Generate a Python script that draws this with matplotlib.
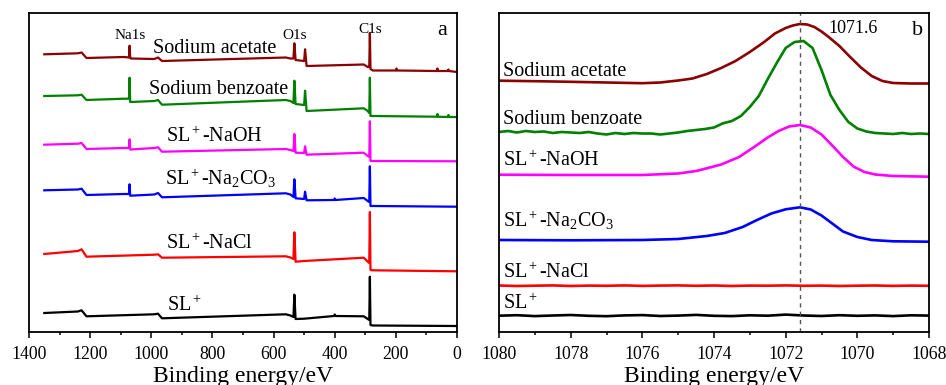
import matplotlib
matplotlib.use("Agg")
import matplotlib.pyplot as plt
from matplotlib.ticker import MultipleLocator

plt.rcParams["font.family"] = ["Liberation Serif", "DejaVu Serif"]
plt.rcParams["mathtext.fontset"] = "custom"
plt.rcParams["mathtext.rm"] = "Liberation Serif"
plt.rcParams["mathtext.it"] = "Liberation Serif:italic"

## series names and colours (same order in both panels)
names = ["Sodium acetate", "Sodium benzoate", "SL$^+$-NaOH",
         "SL$^+$-Na$_2$CO$_3$", "SL$^+$-NaCl", "SL$^+$"]
colors = ["#8b0000", "#008000", "#ff00ff", "#0000ff", "#ff0000", "#000000"]

## panel a: survey spectra (binding energy, offset intensity)
acetate_e = [1350, 1240, 1228, 1212, 1090, 1073, 1071, 1069, 1067, 990, 978, 965,
             560, 545, 535, 532, 528, 500, 497, 492, 305, 292, 287, 285, 283, 275,
             200, 198, 196, 65, 64, 63, 30, 28, 27, 0]
acetate_i = [277.7, 278.7, 279.5, 274, 275, 274.5, 286.3, 274.5, 273.5, 273, 274.5, 271,
             274.5, 273.5, 273.5, 288.7, 272, 271, 282.7, 266, 267.5, 265, 265, 299, 263, 261.5,
             261.5, 263.5, 261.5, 261, 263.5, 261, 261, 262.5, 261, 260]
benzoate_e = [1350, 1240, 1228, 1212, 1090, 1073, 1071, 1069, 1067, 990, 978, 965,
              560, 545, 535, 532, 528, 500, 497, 492, 305, 292, 287, 285, 283, 275,
              65, 64, 63, 30, 28, 27, 0]
benzoate_i = [236, 236.7, 237.3, 232, 233.3, 233.3, 254.3, 230, 230, 231, 232, 227.3,
              232, 231, 229, 251.3, 228, 227, 241.3, 221, 223.7, 221, 219, 254.3, 216, 216,
              215.3, 218, 215.3, 215, 217, 215, 215]
naoh_e = [1350, 1240, 1228, 1212, 1090, 1073, 1071, 1069, 990, 978, 965,
          560, 545, 535, 532, 528, 500, 497, 492, 305, 292, 287, 285, 283, 275, 0]
naoh_i = [187.3, 188.3, 189, 183, 184, 184, 192.7, 182.5, 184, 184.7, 180.3,
          183, 182, 181, 198, 179.3, 179, 185.7, 177.3, 179.3, 176, 175, 210.7, 171, 171, 170.7]
na2co3_e = [1350, 1240, 1228, 1212, 1090, 1073, 1071, 1069, 990, 978, 965,
            560, 545, 535, 532, 528, 500, 497, 492, 402, 400, 398, 305, 292, 287, 285, 283, 275, 0]
na2co3_i = [141.7, 142.5, 143.3, 137, 138, 138, 147.7, 136.3, 137.5, 139, 134.7,
            138.7, 137.5, 135, 152.7, 133.7, 133, 140.3, 131.7, 132, 133.5, 132, 134, 131, 130, 165.7, 126, 126, 125.3]
nacl_e = [1350, 1240, 1228, 1212, 990, 978, 965, 560, 545, 535, 532, 528, 500,
          305, 292, 287, 285, 283, 275, 0]
nacl_i = [78, 81, 82.7, 75.3, 77.3, 77.7, 74.3, 75.7, 74.5, 73, 99.7, 70.3, 71,
          74.3, 70.3, 69, 120, 62, 61.7, 60.7]
sl_e = [1350, 1240, 1228, 1212, 990, 978, 965, 560, 545, 535, 532, 528, 500,
        402, 400, 398, 305, 292, 287, 285, 283, 275, 0]
sl_i = [19, 20.5, 21.7, 15.7, 17.7, 18.3, 13.7, 17.7, 16.5, 15, 37.3, 13, 13.3,
        16, 17.5, 16, 15.7, 13, 12, 55.3, 7, 6.5, 6]

## panel b: Na1s region
acetate_b_e = [1080, 1079, 1078, 1077, 1076, 1075.5, 1075, 1074.6, 1074.2, 1073.8, 1073.4,
               1073, 1072.6, 1072.3, 1072, 1071.8, 1071.6, 1071.4, 1071.2, 1071, 1070.8,
               1070.5, 1070.2, 1069.9, 1069.6, 1069.3, 1069, 1068.5, 1068]
acetate_b_i = [251.3, 250.8, 250.2, 249.5, 248.8, 249.5, 251.5, 253.5, 258, 264, 271,
               280, 290, 298.5, 304, 306.5, 308, 307.5, 305, 300.5, 295,
               286, 275, 264.5, 256, 251, 249, 248.5, 248.5]
benzoate_b_e = [1080, 1079.75, 1079.5, 1079.25, 1079, 1078.75, 1078.5, 1078.25, 1078,
                1077.75, 1077.5, 1077.25, 1077, 1076.75, 1076.5, 1076.25, 1076, 1075.75,
                1075.5, 1075.25, 1075, 1074.75, 1074.5, 1074.25, 1074, 1073.75, 1073.5,
                1073.25, 1073, 1072.75, 1072.5, 1072.25, 1072, 1071.75, 1071.5, 1071.25,
                1071, 1070.75, 1070.5, 1070.25, 1070, 1069.75, 1069.5, 1069.25, 1069,
                1068.75, 1068.5, 1068.25, 1068]
benzoate_b_i = [200, 201, 199.5, 201, 200, 200.5, 199, 200, 199.5,
                199, 200, 198.5, 197.5, 199, 198, 199, 198.5, 198.5,
                197.5, 198.5, 199.5, 201, 202, 203, 204.5, 208.7, 211,
                216, 225, 236, 253, 269, 284, 290, 291, 284,
                262, 237, 222, 210, 203.5, 200.5, 199, 198.5, 198,
                199, 198, 198.5, 198]
naoh_b_e = [1080, 1078, 1076, 1075, 1074.5, 1074.2, 1073.8, 1073.3, 1072.9, 1072.5,
            1072.2, 1071.9, 1071.6, 1071.3, 1071, 1070.7, 1070.4, 1070.1, 1069.8,
            1069.5, 1069, 1068]
naoh_b_i = [157.3, 157, 157, 158.5, 161, 163.7, 167.5, 175, 184.5, 194.5,
            201, 205.5, 207, 204.5, 197.5, 186.5, 175, 165.3, 160,
            157.5, 156, 155.3]
na2co3_b_e = [1080, 1078, 1076, 1075, 1074.2, 1073.7, 1073.2, 1072.8, 1072.4, 1072,
              1071.6, 1071.3, 1071, 1070.7, 1070.4, 1070, 1069.6, 1069, 1068]
na2co3_b_i = [92, 91.7, 92, 93, 96, 99, 105, 112, 118.5, 122.7,
              124.7, 122.5, 116.5, 108.5, 100.5, 95, 92, 90.7, 90.3]
flat_b_e = [1080, 1079.5, 1079, 1078.5, 1078, 1077.5, 1077, 1076.5, 1076, 1075.5, 1075,
            1074.5, 1074, 1073.5, 1073, 1072.5, 1072, 1071.5, 1071, 1070.5, 1070,
            1069.5, 1069, 1068.5, 1068]
nacl_b_i = [46.5, 46, 46.3, 46.6, 46, 46.4, 46.2, 46.6, 46.1, 46.4, 46.6, 46.2, 46.5,
            46, 46.4, 46.3, 46.6, 46.2, 46.4, 46, 46.3, 46.5, 46.1, 46.4, 46.2]
sl_b_i = [16.3, 16.8, 15.9, 16.5, 17, 16.2, 15.8, 16.6, 16.9, 16, 16.4, 17.1, 16.2,
          15.9, 16.7, 16.3, 17.4, 16.5, 16, 16.8, 16.2, 16.6, 15.9, 16.7, 16.4]
peak_pos = 1071.6

survey = [(acetate_e, acetate_i), (benzoate_e, benzoate_i), (naoh_e, naoh_i),
          (na2co3_e, na2co3_i), (nacl_e, nacl_i), (sl_e, sl_i)]
na1s = [(acetate_b_e, acetate_b_i), (benzoate_b_e, benzoate_b_i), (naoh_b_e, naoh_b_i),
        (na2co3_b_e, na2co3_b_i), (flat_b_e, nacl_b_i), (flat_b_e, sl_b_i)]

fig = plt.figure(figsize=(9.46, 3.85), dpi=100)
ax1 = fig.add_axes([29 / 946, 1 - 332 / 385, 428 / 946, 319 / 385])
ax2 = fig.add_axes([499 / 946, 1 - 332 / 385, 430 / 946, 319 / 385])

for (e, i), c in zip(survey, colors):
    ax1.plot(e, i, color=c, lw=1.6)
for (e, i), c in zip(na1s, colors):
    ax2.plot(e, i, color=c, lw=1.9, solid_joinstyle="round")

ax2.axvline(peak_pos, color="#555555", lw=1, ls=(0, (3, 3)))

## labels, panel a
pos_a = [(993, 278.5), (1006, 238), (952, 190.3), (955, 147), (953, 82.7), (950, 21.3)]
for n, (x, y) in zip(names, pos_a):
    ax1.text(x, y, n, fontsize=14.5, ha="left", va="baseline")
ax1.text(1070, 293, "Na1s", fontsize=11, ha="center", va="baseline")
ax1.text(530, 293, "O1s", fontsize=11, ha="center", va="baseline")
ax1.text(285, 299, "C1s", fontsize=11, ha="center", va="baseline")
ax1.text(49, 297, "a", fontsize=16, ha="center", va="baseline")

## labels, panel b
pos_b = [256, 208, 166, 104.7, 53.7, 22.7]
for n, y in zip(names, pos_b):
    ax2.text(1079.88, y, n, fontsize=14.5, ha="left", va="baseline")
ax2.text(1070.81, 298.7, "1071.6", fontsize=13, ha="left", va="baseline")
ax2.text(1068.33, 297, "b", fontsize=16, ha="center", va="baseline")

ax1.set_xlim(1400, 0)
ax1.xaxis.set_major_locator(MultipleLocator(200))
ax1.xaxis.set_minor_locator(MultipleLocator(100))
ax2.set_xlim(1080, 1068)
ax2.xaxis.set_major_locator(MultipleLocator(2))
ax2.xaxis.set_minor_locator(MultipleLocator(1))

for ax in (ax1, ax2):
    ax.set_ylim(0, 319)
    ax.set_yticks([])
    ax.tick_params(axis="x", which="major", direction="out", length=4, width=1.1,
                   labelsize=12.8, pad=6)
    ax.tick_params(axis="x", which="minor", direction="out", length=2.5, width=1.1)
    for s in ax.spines.values():
        s.set_linewidth(1.3)
    ax.set_xlabel("Binding energy/eV", fontsize=17, labelpad=2)

fig.savefig("out.png", dpi=100)
